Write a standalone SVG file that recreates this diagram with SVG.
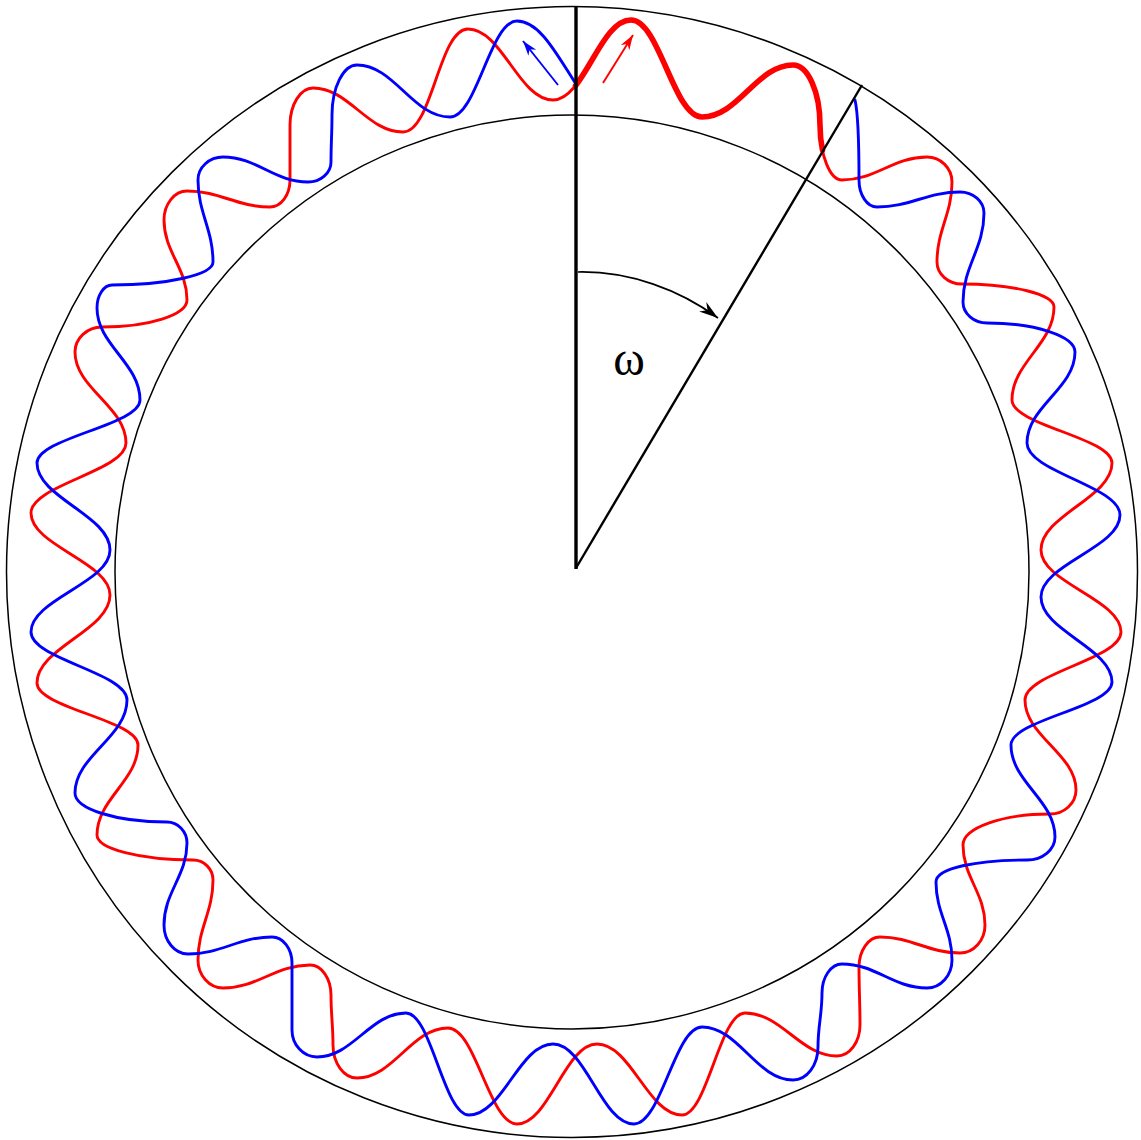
<svg xmlns="http://www.w3.org/2000/svg" width="1141" height="1140" viewBox="0 0 1141 1140">
<style>
.ring{fill:none;stroke:#000;stroke-width:1.5}
.wave{fill:none;stroke-width:2.9;stroke-linejoin:round;stroke-linecap:round}
.thick{stroke-width:5.6}
.red{stroke:#ff0000}
.blue{stroke:#0000ff}
.axis{stroke:#000;fill:none}
.lbl{font-family:"Liberation Serif","Times New Roman",serif;font-size:48px;fill:#000}
</style>
<defs>
<marker id="ahK" markerUnits="userSpaceOnUse" markerWidth="22" markerHeight="14" refX="19" refY="7" orient="auto" overflow="visible"><path d="M0,1 L19,7 L0,13 L6,7 Z" fill="#000"/></marker>
<marker id="ahR" markerUnits="userSpaceOnUse" markerWidth="16" markerHeight="12" refX="15" refY="5" orient="auto" overflow="visible"><path d="M0,0 L15,5 L0,10 L4.5,5 Z" fill="#ff0000"/></marker>
<marker id="ahB" markerUnits="userSpaceOnUse" markerWidth="16" markerHeight="12" refX="15" refY="5" orient="auto" overflow="visible"><path d="M0,0 L15,5 L0,10 L4.5,5 Z" fill="#0000ff"/></marker>
</defs>
<rect width="1141" height="1140" fill="#fff"/>
<g id="ring">
<circle class="ring" cx="572" cy="572" r="565.5"/>
<circle class="ring" cx="572" cy="572" r="457"/>
</g>
<g id="waves">
<path id="red-wave" class="wave red" d="M 553,100 C 584.2,100 599.8,20 631,20 C 659.4,20 673.6,117 702,117 C 738.4,117 756.6,65 793,65 C 807.9,65 820,92 820,125 C 820,155.3 829.9,180 842,180 C 876,180 893,157 927,157 C 940.8,157 952,168.3 952,182 C 952,214 937,230 937,262 C 937,274.1 948.3,284 962,284 C 1012.6,284 1054,294.4 1054,307 C 1054,344.2 1012,362.8 1012,400 C 1012,425.2 1112,437.8 1112,463 C 1112,497.8 1041,515.2 1041,550 C 1041,582.8 1121,599.2 1121,632 C 1121,659.2 1025,672.8 1025,700 C 1025,736 1076,754 1076,790 C 1076,803.2 1064.3,814 1050,814 C 1002.2,814 963,828 963,845 C 963,877 985,893 985,925 C 985,940.4 973.8,953 960,953 C 928,953 912,937 880,937 C 868.5,937 859,950.5 859,967 C 859,990.2 860,1001.8 860,1025 C 860,1042 849.7,1056 837,1056 C 800.2,1056 781.8,1013 745,1013 C 719.8,1013 707.2,1115 682,1115 C 648,1115 631,1044 597,1044 C 565,1044 549,1124 517,1124 C 489.4,1124 475.6,1028 448,1028 C 411.6,1028 393.4,1078 357,1078 C 343.8,1078 333,1063.2 333,1045 C 333,1025 331,1015 331,995 C 331,978.5 321.6,965 310,965 C 275.2,965 257.8,988 223,988 C 209.3,988 198,975.4 198,960 C 198,928 213,912 213,880 C 213,869 204,860 193,860 C 140.2,860 97,848.8 97,835 C 97,799 138,781 138,745 C 138,720.2 37,707.8 37,683 C 37,647.8 110,630.2 110,595 C 110,562.2 31,545.8 31,513 C 31,485 126,471 126,443 C 126,406.6 75,388.4 75,352 C 75,338.3 87.2,327 102,327 C 148.8,327 187,314.9 187,300 C 187,268 164,252 164,220 C 164,204.1 174.4,191 187,191 C 220.2,191 236.8,207 270,207 C 281,207 290,194.9 290,180 L 290,125 C 290,104.7 300.4,88 313,88 C 349,88 367,132 403,132 C 432.3,132 438.8,29 468,29 C 502,29 519,100 553,100 Z"/>
<path id="red-thick" class="wave red thick" d="M 575.5,85.7 C 593.8,62.6 608.2,20 631,20 C 659.4,20 673.6,117 702,117 C 738.4,117 756.6,65 793,65 C 807.9,65 820,92 820,125 C 820,134.1 820.9,142.7 822.5,150.2"/>
<path id="blue-wave" class="wave blue" d="M 855,100 C 858.5,115 859,140 859,180 C 859,194.9 867.1,207 877,207 C 910.2,207 926.8,192 960,192 C 973.2,192 984,201.5 984,213 C 984,248.6 963,266.4 963,302 C 963,313.6 973.8,323 987,323 C 1035.4,323 1075,336.1 1075,352 C 1075,388.4 1027,406.6 1027,443 C 1027,471.8 1120,486.2 1120,515 C 1120,547.8 1041,564.2 1041,597 C 1041,631 1112,648 1112,682 C 1112,707.2 1011,719.8 1011,745 C 1011,781.8 1055,800.2 1055,837 C 1055,849.7 1042.4,860 1027,860 C 977,860 936,868 936,882 C 936,913.2 952,928.8 952,960 C 952,975.4 940.8,988 927,988 C 893,988 876,964 842,964 C 831,964 822,977.1 822,993 C 822,1014.6 818,1025.4 818,1047 C 818,1065.2 806.8,1080 793,1080 C 756.6,1080 738.4,1027 702,1027 C 674.8,1027 661.2,1124 634,1124 C 601.6,1124 585.4,1044 553,1044 C 519.4,1044 502.6,1115 469,1115 C 443.8,1115 431.2,1013 406,1013 C 370.4,1013 352.6,1057 317,1057 C 303.3,1057 292,1044.9 292,1030 L 292,963 C 292,948.7 283,937 272,937 C 238.4,937 221.6,954 188,954 C 174.8,954 164,941 164,925 C 164,892.2 187,875.8 187,843 C 187,831.5 178,822 167,822 C 116.4,822 75,809 75,793 C 75,755.8 127,737.2 127,700 C 127,672.8 31,659.2 31,632 C 31,599.2 110,582.8 110,550 C 110,515.2 37,497.8 37,463 C 37,437.8 140,425.2 140,400 C 140,363.2 97,344.8 97,308 C 97,295.4 103.8,285 112,285 C 167.6,285 213,274.7 213,262 C 213,229.2 198,212.8 198,180 C 198,167.4 209.3,157 223,157 C 257,157 274,182 308,182 C 320.7,182 331,173 331,162 C 331,143 332,134 332,115 C 332,87.5 343.3,65 357,65 C 394.2,65 412.8,117 450,117 C 476.8,117 490.2,21 517,21 C 540,21 557,55 576,84"/>
</g>
<g id="axes">
<line class="axis" x1="576" y1="6" x2="576" y2="569" stroke-width="3.4"/>
<line class="axis" x1="576" y1="568" x2="862" y2="85" stroke-width="2.4"/>
</g>
<g id="connectors">
<path id="omega-arc" class="axis" stroke-width="1.7" d="M 578,272 C 630,271 680,290 718,318" marker-end="url(#ahK)"/>
<line id="red-arrow" x1="603" y1="83" x2="633" y2="35" stroke="#ff0000" stroke-width="1.9" marker-end="url(#ahR)"/>
<line id="blue-arrow" x1="558" y1="85" x2="523" y2="41" stroke="#0000ff" stroke-width="1.9" marker-end="url(#ahB)"/>
</g>
<g id="label-omega">
<text class="lbl" x="629" y="375" text-anchor="middle">ω</text>
</g>
</svg>
